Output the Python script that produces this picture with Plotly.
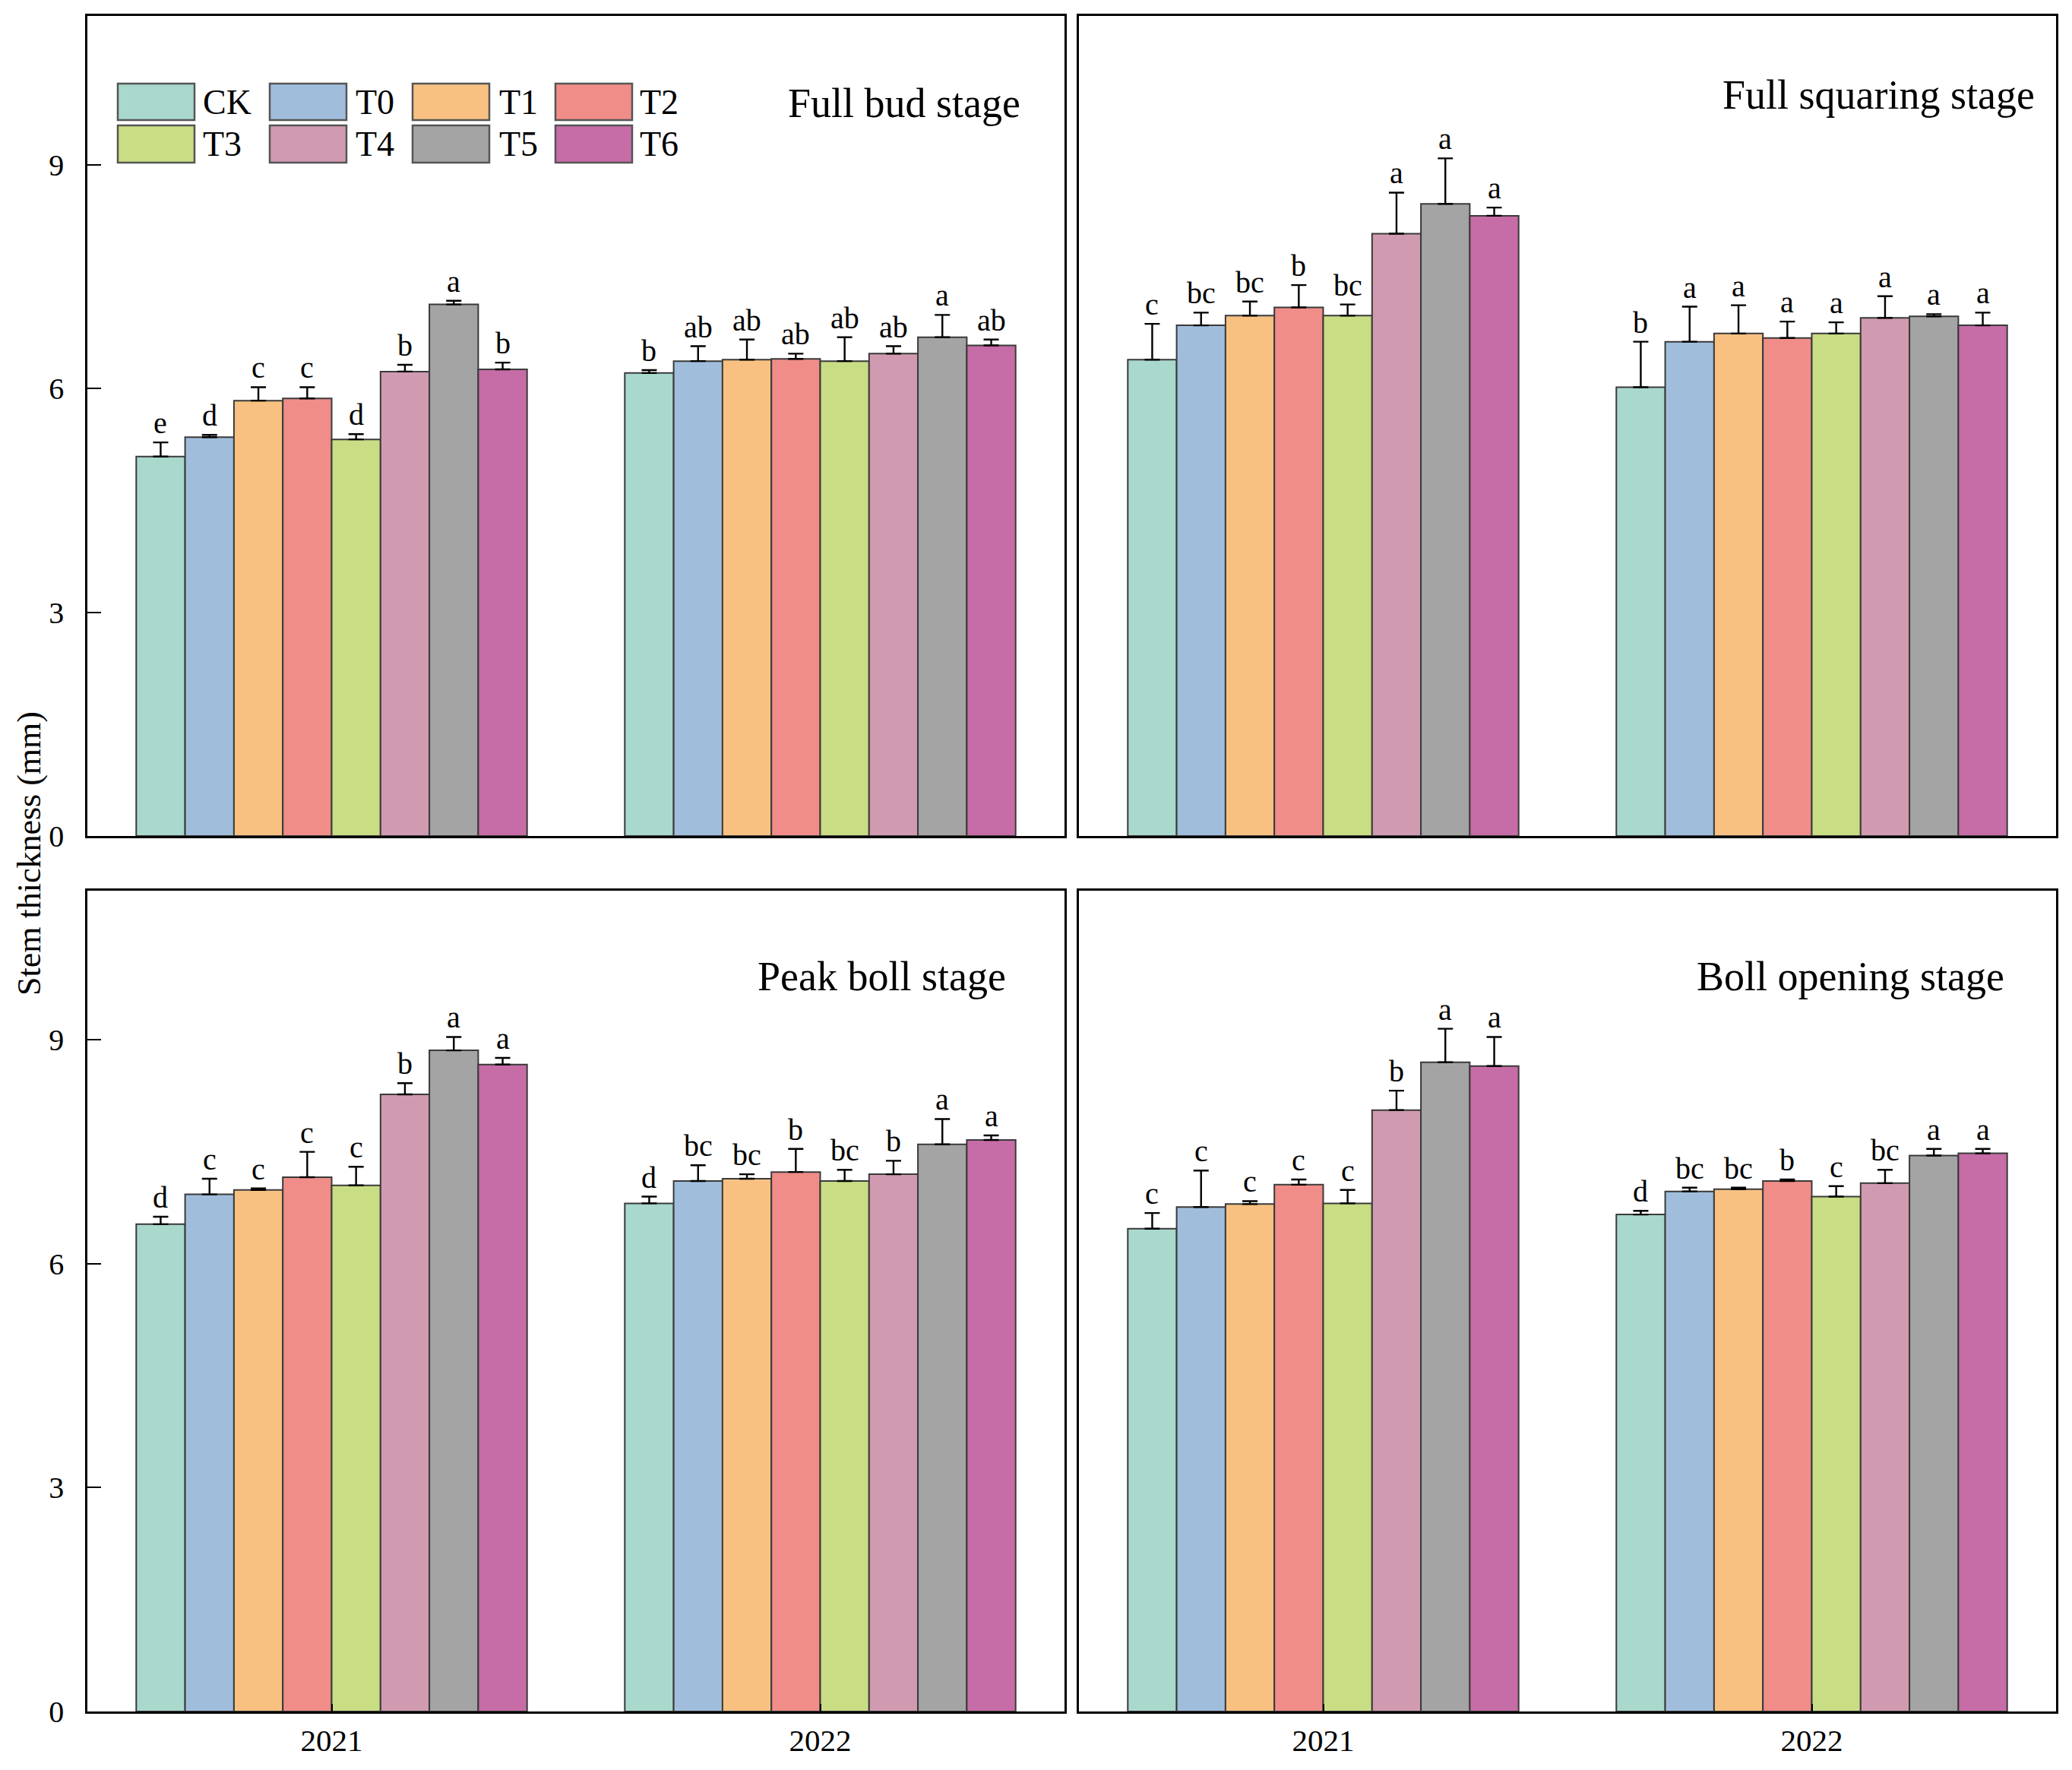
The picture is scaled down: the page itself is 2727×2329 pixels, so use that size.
import plotly.graph_objects as go
from plotly.subplots import make_subplots

# ---------------- data ----------------
treatments = ["CK", "T0", "T1", "T2", "T3", "T4", "T5", "T6"]
colors = ["#A9D8CD", "#A0BEDC", "#F8C182", "#F08D88", "#C9DD84", "#D09AB1", "#A5A4A5", "#C66CA6"]
years = ["2021", "2022"]
stages = ["Full bud stage", "Full squaring stage", "Peak boll stage", "Boll opening stage"]

bud_2021 = [5.09, 5.35, 5.84, 5.87, 5.32, 6.23, 7.13, 6.26]
bud_2021_err = [0.19, 0.03, 0.18, 0.15, 0.07, 0.09, 0.05, 0.09]
bud_2021_sig = ["e", "d", "c", "c", "d", "b", "a", "b"]
bud_2022 = [6.21, 6.37, 6.39, 6.40, 6.37, 6.47, 6.69, 6.58]
bud_2022_err = [0.04, 0.20, 0.27, 0.07, 0.32, 0.10, 0.30, 0.08]
bud_2022_sig = ["b", "ab", "ab", "ab", "ab", "ab", "a", "ab"]

squ_2021 = [6.39, 6.85, 6.98, 7.09, 6.98, 8.08, 8.48, 8.32]
squ_2021_err = [0.48, 0.17, 0.19, 0.30, 0.15, 0.55, 0.61, 0.11]
squ_2021_sig = ["c", "bc", "bc", "b", "bc", "a", "a", "a"]
squ_2022 = [6.02, 6.63, 6.74, 6.68, 6.74, 6.95, 6.97, 6.85]
squ_2022_err = [0.61, 0.47, 0.38, 0.22, 0.15, 0.29, 0.03, 0.17]
squ_2022_sig = ["b", "a", "a", "a", "a", "a", "a", "a"]

peak_2021 = [6.53, 6.93, 6.99, 7.16, 7.05, 8.27, 8.86, 8.67]
peak_2021_err = [0.10, 0.21, 0.02, 0.34, 0.25, 0.15, 0.18, 0.09]
peak_2021_sig = ["d", "c", "c", "c", "c", "b", "a", "a"]
peak_2022 = [6.81, 7.11, 7.14, 7.23, 7.11, 7.20, 7.60, 7.66]
peak_2022_err = [0.09, 0.21, 0.06, 0.31, 0.15, 0.18, 0.34, 0.06]
peak_2022_sig = ["d", "bc", "bc", "b", "bc", "b", "a", "a"]

open_2021 = [6.47, 6.76, 6.80, 7.06, 6.81, 8.06, 8.70, 8.65]
open_2021_err = [0.21, 0.49, 0.04, 0.07, 0.18, 0.26, 0.45, 0.39]
open_2021_sig = ["c", "c", "c", "c", "c", "b", "a", "a"]
open_2022 = [6.66, 6.97, 7.00, 7.11, 6.90, 7.08, 7.45, 7.48]
open_2022_err = [0.05, 0.05, 0.02, 0.02, 0.14, 0.18, 0.09, 0.06]
open_2022_sig = ["d", "bc", "bc", "b", "c", "bc", "a", "a"]

y_ticks = [0, 3, 6, 9]
y_title = "Stem thickness (mm)"

panels = [
    (bud_2021, bud_2021_err, bud_2021_sig, bud_2022, bud_2022_err, bud_2022_sig),
    (squ_2021, squ_2021_err, squ_2021_sig, squ_2022, squ_2022_err, squ_2022_sig),
    (peak_2021, peak_2021_err, peak_2021_sig, peak_2022, peak_2022_err, peak_2022_sig),
    (open_2021, open_2021_err, open_2021_sig, open_2022, open_2022_err, open_2022_sig),
]

# ---------------- figure ----------------
FONT = "Liberation Serif, Times New Roman, serif"
WIN_W, WIN_H = 2727, 2329
OFF = 8  # default page body margin
W, H = WIN_W - 2 * OFF, WIN_H - 2 * OFF
# absolute target frame of the plotting area
PL, PR, PT, PB = 115, 2706, 21, 2252
ML, MR, MT, MB = PL - OFF, W - (PR - OFF), PT - OFF, H - (PB - OFF)
pw = PR - PL
ph = PB - PT

fig = make_subplots(rows=2, cols=2)
positions = [(1, 1), (1, 2), (2, 1), (2, 2)]
bargap = 0.2
nb = len(treatments)
bw = (1 - bargap) / nb

annotations = []
title_pos = [(0.9565, 0.893), (0.980, 0.904), (0.9417, 0.8955), (0.949, 0.8955)]
for p, (r, c) in enumerate(positions):
    m21, e21, s21, m22, e22, s22 = panels[p]
    k = p + 1
    xr = "x" if k == 1 else f"x{k}"
    yr = "y" if k == 1 else f"y{k}"
    for i, t in enumerate(treatments):
        fig.add_trace(go.Bar(
            x=[0, 1], y=[m21[i], m22[i]], name=t, offsetgroup=t,
            marker=dict(color=colors[i], line=dict(color="#3a3a3a", width=2)),
            error_y=dict(type="data", array=[e21[i], e22[i]], arrayminus=[0, 0],
                         symmetric=False, color="black", thickness=2.4, width=10),
            showlegend=False,
        ), row=r, col=c)
        for j, (mv, ev, sv) in enumerate([(m21[i], e21[i], s21[i]), (m22[i], e22[i], s22[i])]):
            annotations.append(dict(
                x=j - (1 - bargap) / 2 + bw * (i + 0.5), y=mv + ev, xref=xr, yref=yr,
                text=sv, showarrow=False, yanchor="bottom", yshift=1,
                font=dict(family=FONT, size=40, color="black")))
    annotations.append(dict(
        x=title_pos[p][0], y=title_pos[p][1], xref=xr + " domain", yref=yr + " domain",
        text=stages[p], showarrow=False, xanchor="right", yanchor="middle",
        font=dict(family=FONT, size=54, color="black")))

fig.update_layout(barmode="group", bargap=bargap, bargroupgap=0)

xd1 = [0, (1401 - PL) / pw]
xd2 = [(1420 - PL) / pw, 1]
yd_top = [(PB - 1100) / ph, 1]
yd_bot = [0, (PB - 1172) / ph]

axis_common = dict(showline=True, mirror=True, linecolor="black", linewidth=2.5,
                   showgrid=False, zeroline=False, automargin=False)
for k in range(1, 5):
    xa = "xaxis" if k == 1 else f"xaxis{k}"
    ya = "yaxis" if k == 1 else f"yaxis{k}"
    bottom = k >= 3
    left = k in (1, 3)
    fig.layout[xa].update(
        domain=xd1 if left else xd2, range=[-0.5, 1.5],
        tickvals=[0, 1], ticktext=years, showticklabels=bottom,
        ticks="inside" if bottom else "", ticklen=10, tickwidth=2, tickcolor="black",
        ticklabelstandoff=0,
        tickfont=dict(family=FONT, size=41, color="black"), **axis_common)
    fig.layout[ya].update(
        domain=yd_bot if bottom else yd_top, range=[0, 11],
        tickvals=y_ticks, showticklabels=left,
        ticks="inside" if left else "", ticklen=18, tickwidth=2, tickcolor="black",
        ticklabelstandoff=20,
        tickfont=dict(family=FONT, size=40, color="black"), **axis_common)

# legend drawn in the top-left panel (absolute pixel layout of the reference)
P1W, P1H = 1401 - PL, 1100 - PT
sw_x = [(155, 256), (355, 456), (543, 644), (731, 832)]
tx_x = [265, 466, 655, 840]
rows_y = [(110, 158), (165, 214)]
text_y = [134, 190]
shapes = []
for i, t in enumerate(treatments):
    rr, cc = divmod(i, 4)
    shapes.append(dict(type="rect", xref="x domain", yref="y domain",
                       x0=(sw_x[cc][0] - PL) / P1W, x1=(sw_x[cc][1] - PL) / P1W,
                       y0=(1100 - rows_y[rr][1]) / P1H, y1=(1100 - rows_y[rr][0]) / P1H,
                       fillcolor=colors[i], line=dict(color="#555555", width=2.5)))
    annotations.append(dict(x=(tx_x[cc] - PL) / P1W, y=(1100 - text_y[rr]) / P1H,
                            xref="x domain", yref="y domain", text=t, showarrow=False,
                            xanchor="left", yanchor="middle",
                            font=dict(family=FONT, size=46, color="black")))

annotations.append(dict(x=(38 - PL) / pw, y=(PB - 1123) / ph, xref="paper", yref="paper",
                        text=y_title, textangle=-90, showarrow=False,
                        xanchor="center", yanchor="middle",
                        font=dict(family=FONT, size=44, color="black")))

fig.update_layout(
    width=W, height=H, margin=dict(l=ML, r=MR, t=MT, b=MB, autoexpand=False),
    paper_bgcolor="white", plot_bgcolor="white",
    annotations=annotations, shapes=shapes, showlegend=False,
    font=dict(family=FONT, color="black"),
)

fig.write_html("out.html")
